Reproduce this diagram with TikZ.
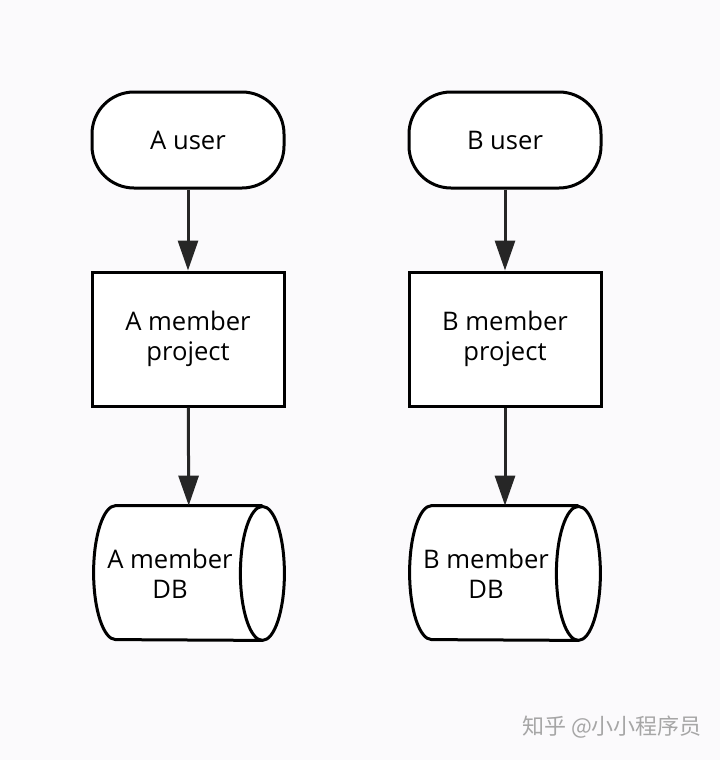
\documentclass[tikz,border=0pt]{standalone}
\usepackage{fontspec}
\setmainfont{Open Sans}
\newfontfamily\cjk{Noto Sans CJK SC}
\usetikzlibrary{arrows.meta}
\definecolor{bgpaper}{HTML}{FBFAFC}
\definecolor{markgray}{HTML}{A6A6A6}
\tikzset{
  userbox/.style={draw, line width=1.5pt, fill=white, rounded corners=21pt,
    minimum width=96pt, minimum height=48pt, align=center},
  projbox/.style={draw, line width=1.5pt, fill=white,
    minimum width=96pt, minimum height=67pt, align=center},
  dbbox/.style={minimum width=95pt, minimum height=67pt, inner sep=0pt},
  flow/.style={line width=1.5pt, draw=black!85, -{Triangle[width=10pt,length=15pt]}}
}
\begin{document}
\begin{tikzpicture}[x=0.5pt, y=0.5pt, every node/.style={font=\fontsize{12.8}{15}\selectfont}]
  \fill[bgpaper] (0,0) rectangle (720,-760);
  \useasboundingbox (0,0) rectangle (720,-760);
  % users
  \node[userbox] (auser) at (188,-140) {A user};
  \node[userbox] (buser) at (505,-140) {B user};
  % projects
  \node[projbox] (aproj) at (188,-339) {A member\\project};
  \node[projbox] (bproj) at (505,-339) {B member\\project};
  % databases
  \node[dbbox] (adb) at (189,-573) {};
  \node[dbbox] (bdb) at (505,-573) {};
  \foreach \db in {adb,bdb} {
    \draw[line width=1.5pt, fill=white]
      ([xshift=-11pt]\db.north east) -- ([xshift=11pt]\db.north west)
      arc[start angle=90, end angle=270, x radius=11pt, y radius=33.5pt]
      -- ([xshift=-11pt]\db.south east)
      arc[start angle=-90, end angle=270, x radius=11pt, y radius=33.5pt];
  }
  \node[align=center] (adbtext) at (170,-574) {A member\\DB};
  \node[align=center] (bdbtext) at (486,-574) {B member\\DB};
  % arrows
  \draw[flow] (auser) -- (aproj);
  \draw[flow] (aproj) -- (adb);
  \draw[flow] (buser) -- (bproj);
  \draw[flow] (bproj) -- (bdb);
  % watermark
  \node[markgray, font=\cjk\fontsize{11}{12}\selectfont] (mark) at (612,-727) {知乎 @小小程序员};
\end{tikzpicture}
\end{document}
